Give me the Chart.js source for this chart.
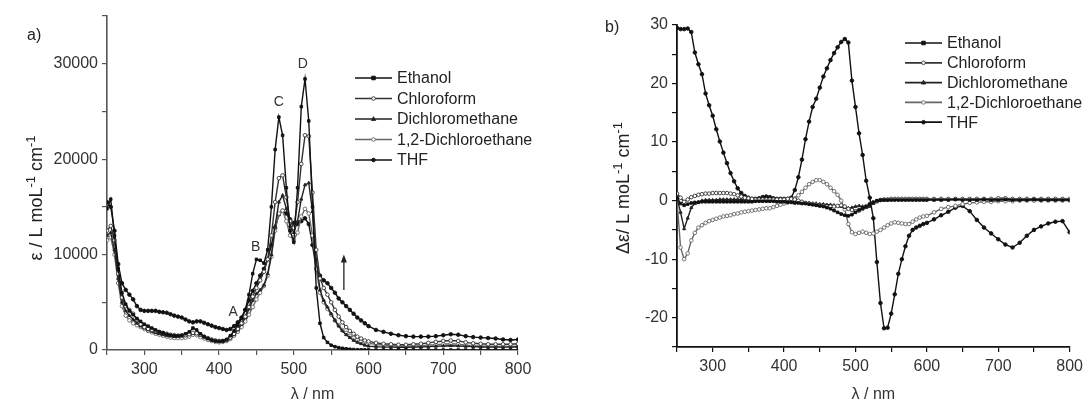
<!DOCTYPE html>
<html>
<head>
<meta charset="utf-8">
<script src="https://cdn.jsdelivr.net/npm/chart.js@4"></script>
<style>
  html, body { margin: 0; padding: 0; background: #fff; }
  #wrap { position: relative; width: 1088px; height: 405px; overflow: hidden; }
  #boxA { position: absolute; left: 0; top: 0; width: 540px; height: 405px; }
  #boxB { position: absolute; left: 540px; top: 0; width: 548px; height: 405px; }
</style>
</head>
<body>
<div id="wrap">
  <div id="boxA"><canvas id="chartA" width="540" height="405"></canvas></div>
  <div id="boxB"><canvas id="chartB" width="548" height="405"></canvas></div>
</div>
<script>
const FONT = "'Liberation Sans', Arial, sans-serif";

// wavelength grid (nm), shared by every curve
const wavelength = [
  250,255,260,265,270,275,280,285,290,295,
  300,305,310,315,320,325,330,335,340,345,
  350,355,360,365,370,375,380,385,390,395,
  400,405,410,415,420,425,430,435,440,445,
  450,455,460,465,470,475,480,485,490,495,
  500,505,510,515,520,525,530,535,540,545,
  550,555,560,565,570,575,580,585,590,595,
  600,
  610,620,630,640,650,660,670,680,690,700,
  710,720,730,740,750,760,770,780,790,800
];

const solvents = ["Ethanol", "Chloroform", "Dichloromethane", "1,2-Dichloroethane", "THF"];

// a) absorption, epsilon / L mol-1 cm-1
const absEthanol = [
  14800,15800,12000,8500,6000,4800,4100,3700,3300,3000,
  2700,2500,2300,2100,1900,1800,1650,1550,1500,1500,
  1550,1700,1900,2300,2100,1700,1400,1200,1050,950,
  900,950,1100,1500,2000,2600,3300,4200,5800,8000,
  9500,9400,9100,10500,15000,21000,24400,22500,17000,12500,
  11300,17000,25500,28400,24000,15000,6500,2800,1300,800,
  500,350,250,180,120,80,50,30,20,15,
  10,
  0,0,0,0,0,0,0,0,0,0,
  0,0,0,0,0,0,0,0,0,0
];
const absChloroform = [
  12500,13000,11500,8000,5500,4600,4200,3800,3200,2700,
  2400,2200,2100,2000,1900,1800,1700,1600,1550,1500,
  1500,1550,1650,1800,1750,1600,1400,1250,1100,1000,
  950,950,1050,1300,1700,2200,2800,3500,4500,5600,
  6500,7300,8200,9500,12000,15500,18000,18300,16000,13500,
  12800,15500,19500,22500,22400,16500,10500,7500,6500,5800,
  5000,4200,3500,2900,2400,2000,1700,1400,1200,1000,
  900,
  750,650,600,550,550,600,650,750,850,950,
  1000,950,800,700,650,600,600,600,600,650
];
const absDichloromethane = [
  12000,12300,10500,7500,5000,4100,3600,3200,2800,2500,
  2300,2100,1950,1800,1700,1600,1500,1450,1400,1400,
  1450,1500,1600,1750,1700,1550,1350,1200,1050,950,
  900,900,1000,1250,1600,2100,2700,3400,4300,5200,
  5900,6300,6800,8000,10000,13000,15500,16200,14800,13000,
  12300,13500,15800,17300,17500,14500,9500,6300,5200,4500,
  3800,3100,2500,2000,1600,1300,1000,800,650,500,
  400,
  350,300,300,280,280,300,320,350,380,420,
  450,420,380,350,320,300,300,300,300,320
];
const absDichloroethane = [
  11500,11800,10000,7000,4600,3600,3100,2800,2600,2400,
  2200,2000,1850,1700,1600,1500,1400,1300,1250,1250,
  1250,1300,1400,1600,1550,1350,1200,1050,950,850,
  800,850,950,1150,1500,1900,2400,3000,3700,4500,
  5300,6000,6700,7800,9800,12500,14300,14600,13500,12000,
  11500,12300,14000,14800,14300,12000,8500,6000,5000,4300,
  3700,3100,2600,2100,1800,1500,1250,1050,900,800,
  700,
  600,500,450,400,400,400,450,500,550,600,
  650,600,500,450,400,400,380,380,380,400
];
const absTHF = [
  15500,15000,12500,9000,7000,6300,5800,5300,4600,4200,
  4100,4100,4100,4100,4000,3950,3900,3750,3600,3500,
  3400,3200,3000,2900,3000,3000,2850,2700,2550,2400,
  2300,2200,2100,2200,2500,2900,3400,4200,5200,6200,
  7000,7800,8500,9500,11000,12800,14200,14600,14300,13700,
  13300,13200,13500,13800,13200,11000,8500,7800,7300,7000,
  6500,6000,5400,5000,4600,4200,3800,3400,3100,2800,
  2500,
  2100,1900,1700,1550,1450,1400,1400,1400,1450,1550,
  1650,1600,1450,1350,1300,1250,1200,1100,1050,1100
];

// b) circular dichroism, delta epsilon / L mol-1 cm-1
const cdEthanol = [
  0.5,-0.5,-0.8,-0.6,-0.4,-0.3,-0.3,-0.2,-0.2,-0.2,
  -0.2,-0.2,-0.2,-0.2,-0.2,-0.2,-0.2,-0.2,-0.2,-0.2,
  -0.2,-0.2,-0.1,-0.1,-0.1,-0.1,-0.1,-0.1,-0.2,-0.2,
  -0.2,-0.3,-0.3,-0.4,-0.4,-0.5,-0.5,-0.6,-0.7,-0.8,
  -0.9,-1.0,-1.2,-1.4,-1.7,-2.0,-2.3,-2.5,-2.6,-2.4,
  -2.0,-1.6,-1.3,-1.0,-0.6,-0.3,0,0.1,0.1,0.1,
  0.1,0.1,0.1,0.1,0.1,0.1,0.1,0.1,0.1,0.1,
  0.1,
  0.1,0.1,0.1,0.2,0.1,0.1,0.1,0.2,0.1,0.1,
  0.2,0.1,0.1,0.1,0.2,0.1,0.1,0.1,0.1,0.1
];
const cdChloroform = [
  1.2,0.5,-0.2,0.2,0.6,0.8,1.0,1.1,1.2,1.2,
  1.3,1.3,1.3,1.3,1.3,1.2,1.1,0.9,0.7,0.5,
  0.4,0.3,0.2,0.2,0.2,0.2,0.2,0.2,0.2,0.2,
  0.2,0.3,0.3,0.2,0,-0.2,-0.4,-0.5,-0.6,-0.7,
  -0.8,-0.9,-1.0,-1.0,-1.0,-0.9,-0.8,-1.0,-1.4,-1.6,
  -1.8,-1.7,-1.4,-1.0,-0.6,-0.3,-0.1,0.1,0.2,0.2,
  0.3,0.3,0.3,0.3,0.3,0.3,0.3,0.3,0.3,0.3,
  0.3,
  0.3,0.3,0.3,0.3,0.3,0.3,0.3,0.3,0.3,0.4,
  0.4,0.3,0.3,0.3,0.3,0.3,0.3,0.3,0.3,0.3
];
const cdDichloromethane = [
  0.5,-2.0,-4.8,-3.0,-1.2,-0.5,-0.2,0,0.1,0.1,
  0.1,0.1,0.2,0.2,0.2,0.2,0.2,0.2,0.2,0.2,
  0.2,0.2,0.2,0.3,0.3,0.3,0.2,0.2,0.2,0.1,
  0,-0.1,-0.2,-0.2,-0.3,-0.3,-0.4,-0.4,-0.5,-0.5,
  -0.6,-0.6,-0.7,-0.7,-0.8,-0.9,-1.0,-1.2,-1.3,-1.2,
  -1.0,-0.9,-1.0,-1.2,-1.0,-0.5,-0.2,0,0.1,0.1,
  0.2,0.2,0.2,0.2,0.2,0.2,0.2,0.2,0.2,0.2,
  0.2,
  0.2,0.2,0.2,0.2,0.2,0.2,0.2,0.2,0.2,0.2,
  0.2,0.2,0.2,0.2,0.2,0.2,0.2,0.2,0.2,0.2
];
const cdDichloroethane = [
  0,-8.0,-10.0,-9.0,-6.8,-5.5,-4.6,-4.2,-3.8,-3.5,
  -3.3,-3.1,-2.9,-2.7,-2.6,-2.5,-2.3,-2.2,-2.0,-1.9,
  -1.8,-1.7,-1.6,-1.5,-1.4,-1.3,-1.3,-1.1,-0.9,-0.7,
  -0.5,-0.3,0,0.4,0.9,1.5,2.2,2.8,3.2,3.5,
  3.5,3.2,2.8,2.2,1.6,1.0,0,-1.5,-4.0,-5.4,
  -5.7,-5.5,-5.3,-5.5,-5.7,-5.6,-5.3,-5.0,-4.6,-4.2,
  -3.9,-3.7,-3.8,-3.9,-4.0,-4.0,-3.6,-3.2,-2.9,-2.7,
  -2.6,
  -2.0,-1.4,-1.1,-0.9,-0.6,-0.4,-0.3,-0.2,-0.2,-0.1,
  -0.1,-0.1,0,0,0,0,0,0,0,0
];
const cdTHF = [
  29.5,29.3,29.3,29.4,28.8,25.3,23.3,21.6,18.3,16.3,
  14.5,12.2,10.1,8.2,6.4,4.7,3.3,2.1,1.3,0.8,
  0.5,0.3,0.3,0.4,0.6,0.7,0.6,0.4,0.3,0.3,
  0.3,0.3,0.5,1.8,4.0,7.0,10.5,13.5,16.0,17.4,
  19.3,21.2,22.6,24.0,25.2,26.2,27.1,27.6,27.0,20.5,
  16.0,11.5,7.8,3.4,0.5,-3.0,-10.5,-17.5,-21.8,-21.7,
  -19.3,-16.0,-12.5,-10.0,-7.8,-6.0,-5.0,-4.6,-4.3,-4.0,
  -3.8,
  -3.2,-2.5,-1.9,-1.2,-0.9,-1.8,-3.3,-4.6,-5.6,-6.6,
  -7.5,-8.0,-7.2,-6.0,-5.0,-4.4,-3.9,-3.6,-3.5,-5.4
];

// peak letters on panel a: [label, wavelength, epsilon]
const peakLabels = [["A", 419, 4000], ["B", 449, 10800], ["C", 480, 26000], ["D", 512, 30000]];

// look of each solvent curve
const seriesStyle = [
  { color: "#111", marker: "rect", open: false },
  { color: "#333", marker: "circle", open: true },
  { color: "#222", marker: "triangle", open: false },
  { color: "#666", marker: "circle", open: true },
  { color: "#111", marker: "circle", open: false },
];

const toPoints = (ys) => wavelength.map((x, i) => ({ x, y: ys[i] }));

function makeDatasets(seriesList) {
  return seriesList.map((ys, i) => {
    const st = seriesStyle[i];
    return {
      label: solvents[i],
      data: toPoints(ys),
      borderColor: st.color,
      borderWidth: 1.4,
      pointStyle: st.marker,
      pointRadius: 1.8,
      pointBorderWidth: 0.9,
      pointBorderColor: st.color,
      pointBackgroundColor: st.open ? "#fff" : st.color,
      tension: 0,
    };
  });
}

function drawMarker(ctx, style, x, y, r) {
  ctx.beginPath();
  if (style === "rect") {
    ctx.rect(x - r, y - r, 2 * r, 2 * r);
  } else if (style === "triangle") {
    ctx.moveTo(x, y - r * 1.3);
    ctx.lineTo(x + r * 1.2, y + r * 0.8);
    ctx.lineTo(x - r * 1.2, y + r * 0.8);
    ctx.closePath();
  } else {
    ctx.arc(x, y, r, 0, Math.PI * 2);
  }
  ctx.fill();
  ctx.stroke();
}

// legend drawn inside the plot, like the original figure
function legendPlugin(x0, y0, dy) {
  return {
    id: "insideLegend",
    afterDraw(chart) {
      const ctx = chart.ctx;
      ctx.save();
      chart.data.datasets.forEach((ds, i) => {
        const st = seriesStyle[i];
        const y = y0 + i * dy;
        ctx.strokeStyle = st.color;
        ctx.lineWidth = 1.7;
        ctx.beginPath();
        ctx.moveTo(x0, y);
        ctx.lineTo(x0 + 37, y);
        ctx.stroke();
        ctx.lineWidth = 0.9;
        ctx.fillStyle = st.open ? "#fff" : st.color;
        drawMarker(ctx, st.marker, x0 + 18.5, y, 1.8);
        ctx.fillStyle = "#222";
        ctx.font = "16px " + FONT;
        ctx.textBaseline = "middle";
        ctx.textAlign = "left";
        ctx.fillText(ds.label, x0 + 42, y + 1);
      });
      ctx.restore();
    },
  };
}

// rotated y title with superscripts, plus the panel letter
function titlePlugin(cx, cy, parts, panel, px, py) {
  return {
    id: "sideTitle",
    afterDraw(chart) {
      const ctx = chart.ctx;
      ctx.save();
      ctx.fillStyle = "#222";
      ctx.font = "16px " + FONT;
      ctx.textBaseline = "alphabetic";
      ctx.textAlign = "left";
      ctx.fillText(panel, px, py);
      ctx.translate(cx, cy);
      ctx.rotate(-Math.PI / 2);
      let w = 0;
      parts.forEach((p) => {
        ctx.font = (p.sup ? 13 : 18) + "px " + FONT;
        w += ctx.measureText(p.t).width;
      });
      let x = -w / 2;
      parts.forEach((p) => {
        ctx.font = (p.sup ? 13 : 18) + "px " + FONT;
        ctx.fillText(p.t, x, p.sup ? -7 : 0);
        x += ctx.measureText(p.t).width;
      });
      ctx.restore();
    },
  };
}

const peakPlugin = {
  id: "peakMarks",
  afterDraw(chart) {
    const ctx = chart.ctx;
    const xs = chart.scales.x, ys = chart.scales.y;
    ctx.save();
    ctx.fillStyle = "#333";
    ctx.font = "14px " + FONT;
    ctx.textAlign = "center";
    ctx.textBaseline = "middle";
    peakLabels.forEach(([t, nm, v]) => {
      ctx.fillText(t, xs.getPixelForValue(nm), ys.getPixelForValue(v));
    });
    // upward arrow beside the red tail
    const ax = xs.getPixelForValue(567);
    const yTop = ys.getPixelForValue(10000), yBot = ys.getPixelForValue(6300);
    ctx.strokeStyle = "#222";
    ctx.lineWidth = 1.3;
    ctx.beginPath();
    ctx.moveTo(ax, yBot);
    ctx.lineTo(ax, yTop + 4);
    ctx.stroke();
    ctx.fillStyle = "#222";
    ctx.beginPath();
    ctx.moveTo(ax, yTop);
    ctx.lineTo(ax - 3, yTop + 8);
    ctx.lineTo(ax + 3, yTop + 8);
    ctx.closePath();
    ctx.fill();
    ctx.restore();
  },
};

function scaleX(axisColor, axisWidth, height) {
  return {
    type: "linear", min: 250, max: 800,
    border: { display: true, color: axisColor, width: axisWidth },
    grid: { drawOnChartArea: false, drawTicks: true, tickLength: 5, color: axisColor, lineWidth: 1.2 },
    ticks: {
      stepSize: 50, autoSkip: false, maxRotation: 0, padding: 5, color: "#333",
      font: { size: 16 },
      callback: (v) => (v % 100 === 0 ? String(v) : ""),
    },
    title: { display: true, text: "λ / nm", color: "#333", font: { size: 16 }, padding: { top: 0, bottom: 1 } },
    afterFit: (s) => { s.height = height; },
  };
}

function scaleY(min, max, step, major, axisColor, axisWidth, width) {
  return {
    type: "linear", min, max,
    border: { display: true, color: axisColor, width: axisWidth },
    grid: { drawOnChartArea: false, drawTicks: true, tickLength: 5, color: axisColor, lineWidth: 1.2 },
    ticks: {
      stepSize: step, autoSkip: false, padding: 4, color: "#333",
      font: { size: 16 },
      callback: (v) => (v % major === 0 ? String(v) : ""),
    },
    afterFit: (s) => { s.width = width; },
  };
}

Chart.defaults.font.family = FONT;

new Chart(document.getElementById("chartA"), {
  type: "line",
  data: { datasets: makeDatasets([absEthanol, absChloroform, absDichloromethane, absDichloroethane, absTHF]) },
  options: {
    responsive: false,
    devicePixelRatio: 1,
    animation: false,
    layout: { padding: { left: 0, top: 16, right: 22, bottom: 0 } },
    plugins: { legend: { display: false }, tooltip: { enabled: false } },
    scales: {
      x: scaleX("#555", 1.6, 55),
      y: scaleY(0, 35000, 5000, 10000, "#555", 1.6, 107),
    },
  },
  plugins: [
    legendPlugin(355, 78, 20.5),
    titlePlugin(42, 198, [
      { t: "ε / L moL" }, { t: "-1", sup: true }, { t: " cm" }, { t: "-1", sup: true },
    ], "a)", 27, 40),
    peakPlugin,
  ],
});

new Chart(document.getElementById("chartB"), {
  type: "line",
  data: { datasets: makeDatasets([cdEthanol, cdChloroform, cdDichloromethane, cdDichloroethane, cdTHF]) },
  options: {
    responsive: false,
    devicePixelRatio: 1,
    animation: false,
    layout: { padding: { left: 0, top: 25, right: 14, bottom: 0 } },
    plugins: { legend: { display: false }, tooltip: { enabled: false } },
    scales: {
      x: scaleX("#111", 1.8, 58),
      y: scaleY(-25, 30, 5, 10, "#111", 1.8, 137),
    },
  },
  plugins: [
    legendPlugin(365, 43, 19.8),
    titlePlugin(89, 188, [
      { t: "Δε/ L moL" }, { t: "-1", sup: true }, { t: " cm" }, { t: "-1", sup: true },
    ], "b)", 65, 32),
  ],
});
</script>
</body>
</html>
